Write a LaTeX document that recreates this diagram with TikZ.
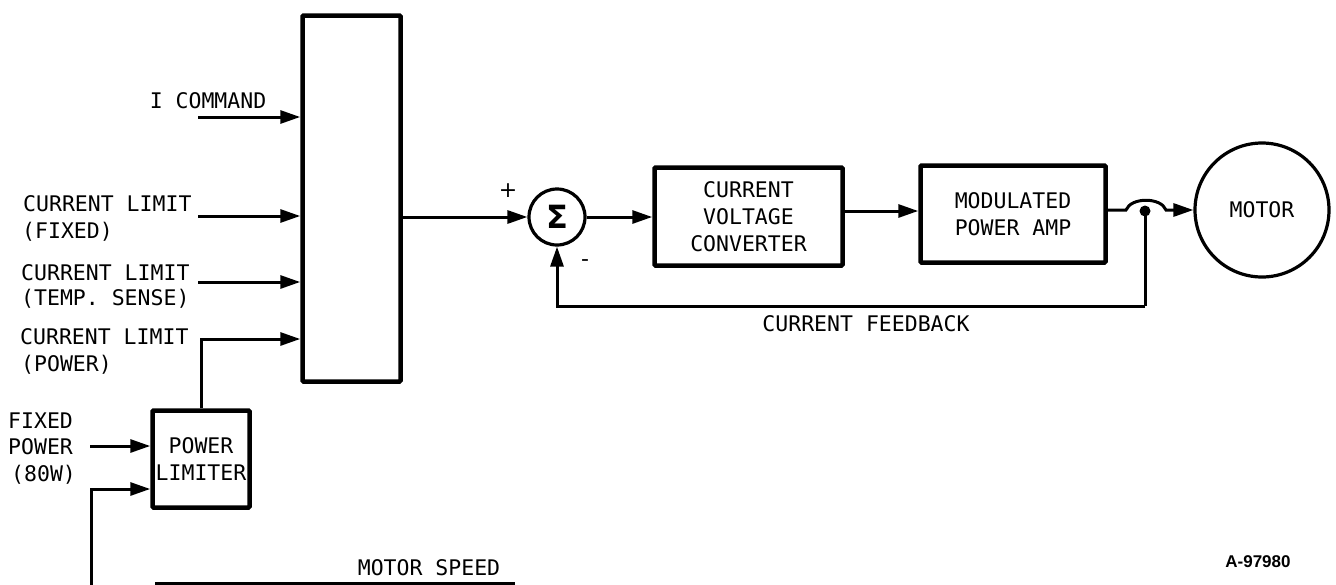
\documentclass[tikz,border=0pt]{standalone}
\usepackage{fontspec}
\setmainfont{DejaVu Sans Mono}
\newfontfamily\tagfont{Liberation Sans}
\newfontfamily\sigfont{DejaVu Sans}
\usetikzlibrary{arrows.meta}
\begin{document}
\begin{tikzpicture}[x=1pt,y=-1pt,
  lbl/.style={inner sep=0pt, font=\fontsize{21.5}{27}\selectfont},
  blk/.style={draw, line width=4.5pt, rounded corners=1pt, inner sep=0pt, align=center, font=\fontsize{21.5}{27}\selectfont},
  rnd/.style={draw, circle, line width=3.2pt, inner sep=0pt, font=\fontsize{21.5}{27}\selectfont},
  conn/.style={line width=3pt},
  arr/.style={conn, -{Triangle[length=20pt,width=13pt]}},
]
\useasboundingbox (0,0) rectangle (1336,584);
\fill[white] (0,0) rectangle (1336,584);

% blocks
\node[blk, minimum width=98pt, minimum height=366pt] (big) at (351.5,198.5) {};
\node[blk, minimum width=97pt, minimum height=97pt] (pl) at (201,459) {POWER\\LIMITER};
\node[rnd, minimum size=56pt] (sig) at (557,217) {\sigfont\bfseries\fontsize{32}{32}\selectfont Σ};
\node[blk, minimum width=188pt, minimum height=98pt] (cvc) at (748.5,216.5) {CURRENT\\VOLTAGE\\CONVERTER};
\node[blk, minimum width=185pt, minimum height=97pt] (mpa) at (1013,214) {MODULATED\\POWER AMP};
\node[rnd, minimum size=134pt] (motor) at (1262,210) {MOTOR};
\node[circle, fill, inner sep=0pt, minimum size=11pt] (dot) at (1145,211) {};

% helper coordinates
\coordinate (in1) at (198,117);
\coordinate (in2) at (198,216);
\coordinate (in3) at (198,282);
\coordinate (y339) at (0,339);
\coordinate (yM) at (0,211);
\coordinate (hopa) at (1126,210);
\coordinate (hopb) at (1166,210);
\coordinate (fb) at (1145,306);
\coordinate (fp) at (90,446);
\coordinate (msb) at (91,586);
\coordinate (msl) at (91,489);
\coordinate (ms1) at (155,583);
\coordinate (ms2) at (515,583);

% connectors
\draw[arr] (in1) -- (in1 -| big.west);
\draw[arr] (in2) -- (in2 -| big.west);
\draw[arr] (in3) -- (in3 -| big.west);
\draw[arr] (pl.north) |- (big.west |- y339);
\draw[arr] (big.east |- sig.west) -- (sig.west);
\draw[arr] (sig.east) -- (cvc.west |- sig.east);
\draw[arr] (cvc.east |- yM) -- (mpa.west |- yM);
\draw[arr] (mpa.east |- hopa) -- (hopa) .. controls (1131,197) and (1161,197) .. (hopb) -- (motor.west);
\draw[conn] (dot.center) -- (fb);
\draw[arr] (fb) -| (sig.south);
\draw[arr] (fp) -- (fp -| pl.west);
\draw[arr] (msb) -- (msl) -- (msl -| pl.west);
\draw[conn] (ms1) -- (ms2);

% labels
\node[lbl, anchor=base] (l1) at (208,108) {I COMMAND};
\node[lbl, anchor=base west] (l2a) at (23,211) {CURRENT LIMIT};
\node[lbl, anchor=base west] (l2b) at (22,238) {(FIXED)};
\node[lbl, anchor=base west] (l3a) at (21,280) {CURRENT LIMIT};
\node[lbl, anchor=base west] (l3b) at (21,305) {(TEMP. SENSE)};
\node[lbl, anchor=base west] (l4a) at (20,344) {CURRENT LIMIT};
\node[lbl, anchor=base west] (l4b) at (21,371) {(POWER)};
\node[lbl, anchor=base west] (l5a) at (8,428) {FIXED};
\node[lbl, anchor=base west] (l5b) at (8,454) {POWER};
\node[lbl, anchor=base west] (l5c) at (11,481) {(80W)};
\node[lbl, anchor=base] (fbl) at (866,331) {CURRENT FEEDBACK};
\node[lbl, anchor=base] (msl2) at (429,575) {MOTOR SPEED};
\node[inner sep=0pt, font=\sigfont\fontsize{22}{22}\selectfont] (plus) at (508,191) {+};
\node[inner sep=0pt, font=\sigfont\fontsize{22}{22}\selectfont] (minus) at (585,263) {-};
\node[inner sep=0pt, font=\tagfont\bfseries\fontsize{17}{17}\selectfont] (tag) at (1258,562) {A-97980};
\end{tikzpicture}
\end{document}
